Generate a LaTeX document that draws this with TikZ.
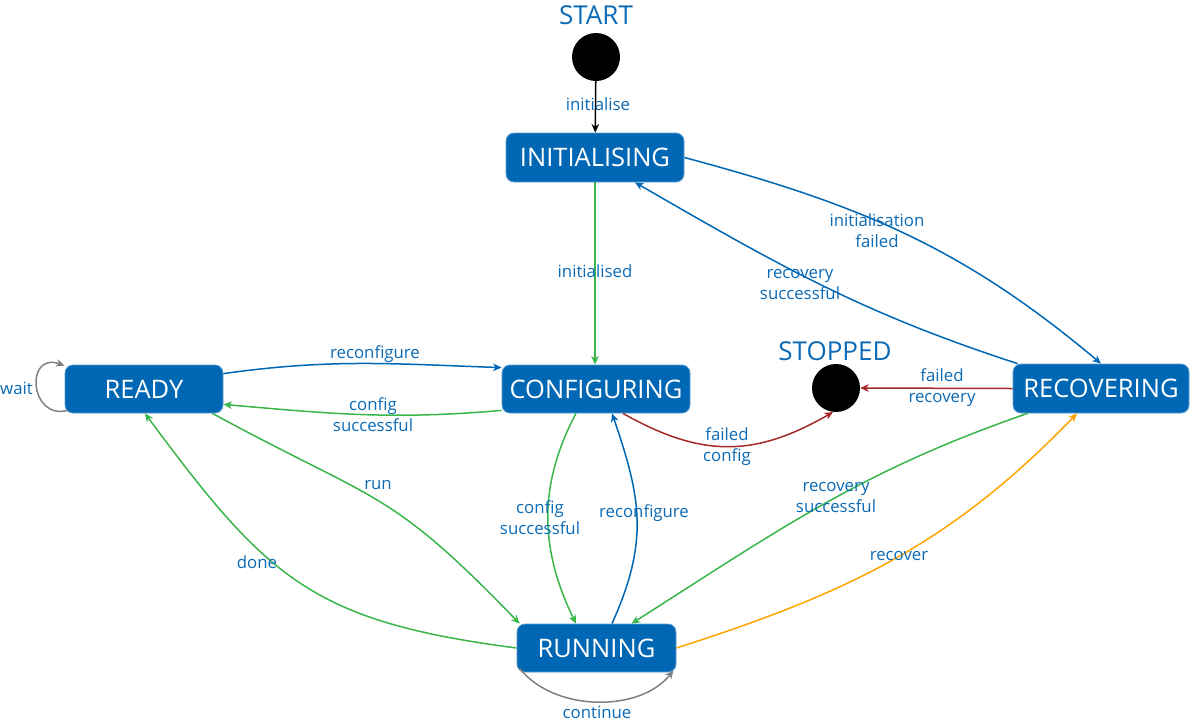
\documentclass[tikz,border=0pt]{standalone}
\usepackage{fontspec}
\setmainfont{Open Sans}
\usetikzlibrary{arrows.meta,calc}
\definecolor{boxblue}{RGB}{0,103,181}
\definecolor{lblblue}{RGB}{10,106,182}
\definecolor{edgegreen}{RGB}{57,181,74}
\definecolor{edgered}{RGB}{165,42,42}
\definecolor{edgeorange}{RGB}{255,165,0}
\definecolor{edgegray}{RGB}{128,128,128}
\definecolor{edgeblue}{RGB}{0,103,181}
\tikzset{
  statebox/.style={rectangle, rounded corners=8pt, fill=boxblue, draw=boxblue!65!white, line width=0.8pt,
    text=white, font=\fontsize{25.5}{28}\selectfont, inner sep=0pt},
  dot/.style={circle, fill=black, minimum size=48pt, inner sep=0pt},
  title/.style={text=lblblue, font=\fontsize{26}{30}\selectfont, inner sep=0pt},
  lbl/.style={text=lblblue, font=\fontsize{16.8}{21}\selectfont, align=center, inner sep=0pt},
  conn/.style={line width=1.5pt, -{Stealth[length=8.5pt,width=7.5pt,inset=2.5pt]}},
}
\begin{document}
\begin{tikzpicture}[x=1pt,y=1pt]
\useasboundingbox (0,0) rectangle (1190,-721);
% states
\node[dot] (start) at (596,-57) {};
\node[title] (starttitle) at (596,-15) {START};
\node[statebox, minimum width=178pt, minimum height=49pt] (init) at (595,-157.5) {INITIALISING};
\node[statebox, minimum width=188pt, minimum height=48pt] (conf) at (596,-389) {CONFIGURING};
\node[statebox, minimum width=158pt, minimum height=48pt] (ready) at (144,-389) {READY};
\node[statebox, minimum width=176pt, minimum height=49pt] (rec) at (1101,-388.5) {RECOVERING};
\node[statebox, minimum width=159pt, minimum height=48pt] (run) at (596.5,-648) {RUNNING};
\node[dot] (stop) at (836,-388) {};
\node[title] (stoptitle) at (835,-351) {STOPPED};

% connectors
\draw[conn, black] (start) -- (init);
\draw[conn, edgegreen] (init.south) -- (init.south |- conf.north);
\draw[conn, edgeblue] (init.east) to[out=-15, in=140] (rec.north);
\draw[conn, edgeblue] ([xshift=5]rec.north west) to[out=162, in=-30] ([xshift=40]init.south);
\draw[conn, edgeblue] ([yshift=-9]ready.north east) to[out=8, in=178] ([yshift=-3]conf.north west);
\draw[conn, edgegreen] ([yshift=3]conf.south west) to[out=185, in=-5] ([yshift=9]ready.south east);
\draw[conn, edgegray] ([xshift=3,yshift=3]ready.south west) .. controls +(-38,-10) and +(-40,14) .. ([yshift=-1]ready.north west);
\draw[conn, edgegreen] ([xshift=-11]ready.south east) to[out=-28.5, in=134, looseness=1.3] ([xshift=3]run.north west);
\draw[conn, edgegreen] (run.west) to[out=172.6, in=-53.5, looseness=1.2] ([xshift=1]ready.south);
\draw[conn, edgegreen] ([xshift=-20]conf.south) to[out=-118, in=116] ([xshift=-20.5]run.north);
\draw[conn, edgeblue] ([xshift=15.5]run.north) to[out=65.8, in=-71, looseness=1.1] ([xshift=16]conf.south);
\draw[conn, edgered] ([xshift=27]conf.south) to[out=-29.5, in=-150, looseness=1.1] (stop.-97);
\draw[conn, edgered] (rec.west) -- (stop.east);
\draw[conn, edgegreen] ([xshift=15]rec.south west) to[out=199, in=32.5] ([xshift=35]run.north);
\draw[conn, edgeorange] (run.east) to[out=17.8, in=-134] ([xshift=-24]rec.south);
\draw[conn, edgegray] ([xshift=3,yshift=4]run.south west) .. controls +(35,-44) and +(-33,-42) .. ([xshift=-3,yshift=2]run.south east);

% labels
\node[lbl] (l-init) at (598,-104) {initialise};
\node[lbl] (l-initd) at (595,-271) {initialised};
\node[lbl] (l-initf) at (877,-231) {initialisation\\failed};
\node[lbl] (l-recs1) at (800,-284) {recovery\\successful};
\node[lbl] (l-reconf1) at (375,-354) {reconfigure};
\node[lbl] (l-confs1) at (373,-415) {config\\successful};
\node[lbl] (l-wait) at (16.5,-388) {wait};
\node[lbl] (l-run) at (378,-485) {run};
\node[lbl] (l-done) at (257,-562) {done};
\node[lbl] (l-confs2) at (540,-518) {config\\successful};
\node[lbl] (l-reconf2) at (644,-513) {reconfigure};
\node[lbl] (l-failc) at (727,-447) {failed\\config};
\node[lbl] (l-recs2) at (836,-497) {recovery\\successful};
\node[lbl] (l-recover) at (899,-556) {recover};
\node[lbl] (l-failr) at (942,-387.5) {failed\\recovery};
\node[lbl] (l-cont) at (597,-712) {continue};
\end{tikzpicture}
\end{document}
